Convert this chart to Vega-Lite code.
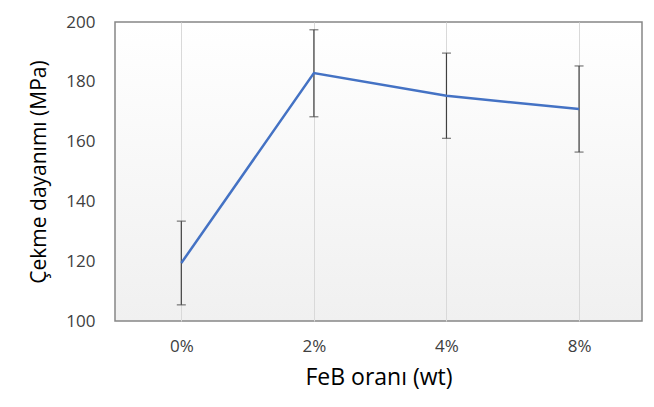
{
  "$schema": "https://vega.github.io/schema/vega-lite/v6.json",
  "autosize": {"type": "none"},
  "width": 527,
  "height": 299,
  "padding": {"left": 115, "top": 22, "right": 12, "bottom": 86},
  "background": "white",
  "config": {
    "font": "Open Sans",
    "view": {
      "stroke": "#868686",
      "strokeWidth": 1.5,
      "fill": {"gradient": "linear", "x1": 0, "y1": 0, "x2": 0, "y2": 1, "stops": [{"offset": 0, "color": "#ffffff"}, {"offset": 1, "color": "#f0f0f0"}]}
    }
  },
  "data": {
    "values": [
      {"oran": "0%", "mean": 119.4, "low": 105.4, "high": 133.4},
      {"oran": "2%", "mean": 182.9, "low": 168.3, "high": 197.4},
      {"oran": "4%", "mean": 175.3, "low": 161.1, "high": 189.6},
      {"oran": "8%", "mean": 170.9, "low": 156.5, "high": 185.3}
    ]
  },
  "encoding": {
    "x": {
      "field": "oran",
      "type": "ordinal",
      "sort": null,
      "scale": {"type": "point", "padding": 0.4875, "align": 0.513},
      "axis": {
        "title": "FeB oranı (wt)",
        "titleFontSize": 23,
        "titleFontWeight": "normal",
        "titleColor": "#000000",
        "titlePadding": 12,
        "labelAngle": 0,
        "labelFontSize": 17,
        "labelColor": "#404040",
        "labelPadding": 17,
        "ticks": false,
        "domain": false,
        "grid": true,
        "gridColor": "#d9d9d9",
        "gridWidth": 1
      }
    }
  },
  "layer": [
    {
      "mark": {"type": "rule", "color": "#404040", "strokeWidth": 1.2},
      "encoding": {
        "y": {"field": "low", "type": "quantitative"},
        "y2": {"field": "high"}
      }
    },
    {
      "mark": {"type": "tick", "color": "#404040", "orient": "horizontal", "size": 9, "thickness": 1.2},
      "encoding": {"y": {"field": "low", "type": "quantitative"}}
    },
    {
      "mark": {"type": "tick", "color": "#404040", "orient": "horizontal", "size": 9, "thickness": 1.2},
      "encoding": {"y": {"field": "high", "type": "quantitative"}}
    },
    {
      "mark": {"type": "line", "color": "#4472C4", "strokeWidth": 2.5},
      "encoding": {
        "y": {
          "field": "mean",
          "type": "quantitative",
          "scale": {"domain": [100, 200], "nice": false, "zero": false},
          "axis": {
            "title": "Çekme dayanımı (MPa)",
            "titleFontSize": 21,
            "titleFontWeight": "normal",
            "titleColor": "#000000",
            "titlePadding": 16,
            "values": [100, 120, 140, 160, 180, 200],
            "labelFontSize": 17,
            "labelColor": "#404040",
            "labelPadding": 20,
            "ticks": false,
            "domain": false,
            "grid": false
          }
        }
      }
    }
  ]
}
